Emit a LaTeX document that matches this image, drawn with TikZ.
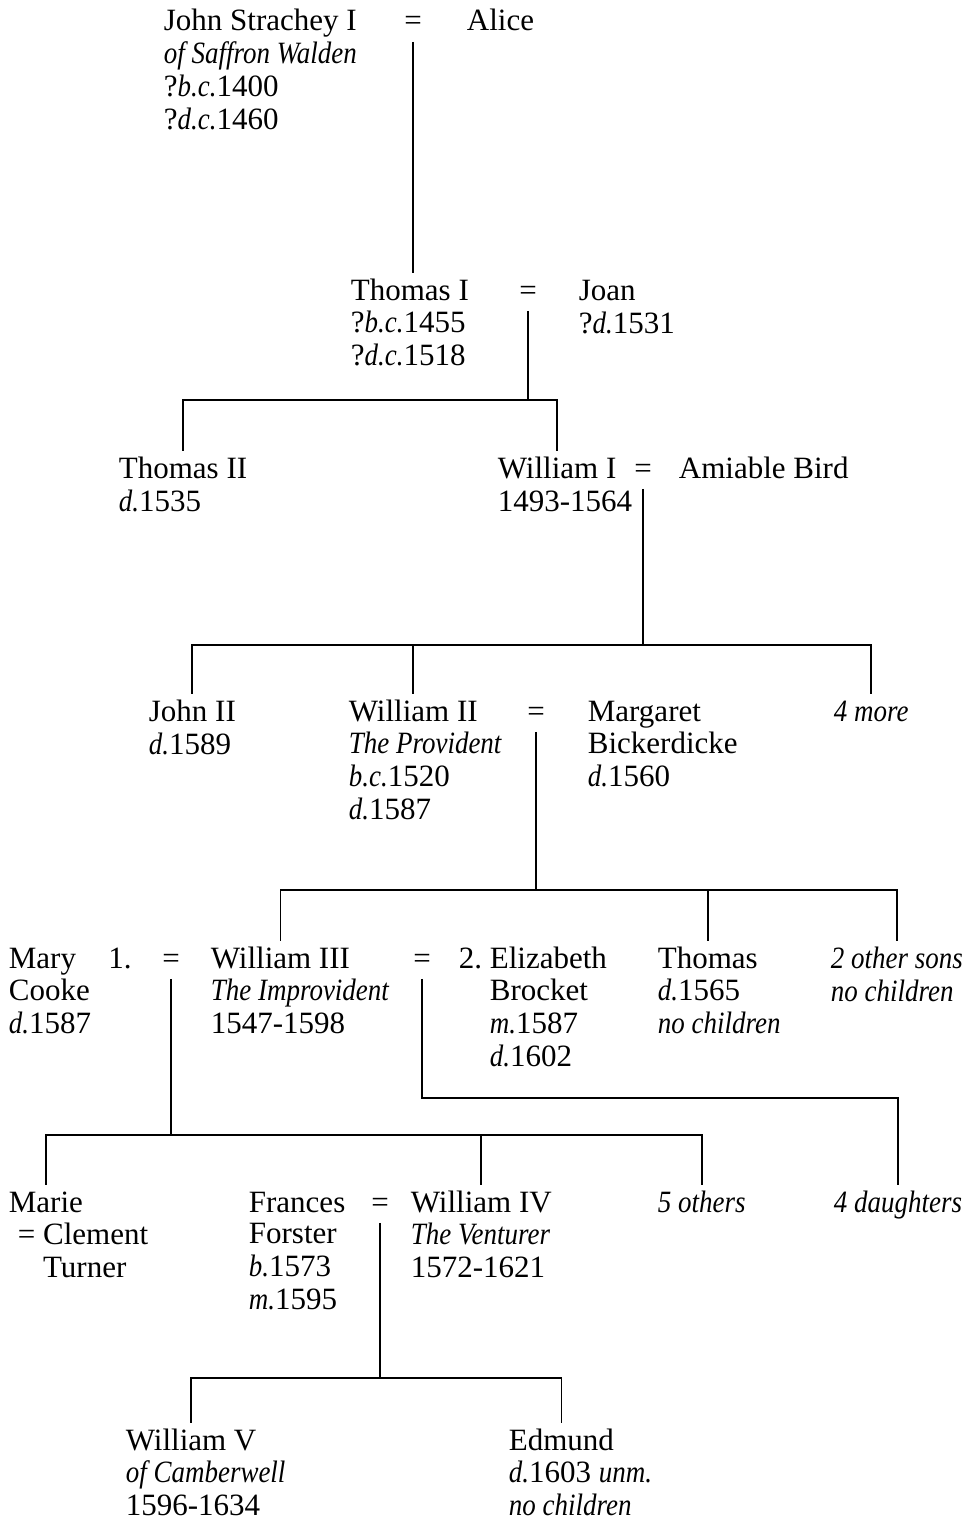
\documentclass[tikz,border=0pt]{standalone}
\usepackage{fontspec}
\setmainfont{Liberation Serif}[ItalicFeatures={FakeStretch=0.87}]
\usetikzlibrary{calc}

\tikzset{
  nm/.style={anchor=base west, inner sep=0pt, outer ysep=2pt, execute at begin node=\strut},
  info/.style={anchor=north west, inner sep=0pt, align=left, yshift=-4.95pt, execute at begin node=\strut},
  eq/.style={anchor=base, inner sep=0pt, execute at begin node=\strut},
}

\begin{document}
\begin{tikzpicture}[x=0.5pt, y=-0.5pt, line width=0.9pt, font=\fontsize{15.5}{16.5}\selectfont]
  \useasboundingbox (0,0) rectangle (969,1525);
  % John Strachey I and Alice
  \node[nm] (johnI) at (163,31) {John Strachey I};
  \node[info] at (johnI.base west) {\textit{of Saffron Walden}\\?\textit{b.c.}1400\\?\textit{d.c.}1460};
  \node[eq] (eqA) at (413,31) {=};
  \node[nm] (alice) at (466,31) {Alice};
  % Thomas I and Joan
  \node[nm] (thomasI) at (350,300) {Thomas I};
  \node[info] at (thomasI.base west) {?\textit{b.c.}1455\\?\textit{d.c.}1518};
  \node[eq] (eqB) at (528,300) {=};
  \node[nm] (joan) at (578,300) {Joan};
  \node[info] at (joan.base west) {?\textit{d.}1531};
  % their sons
  \node[nm] (thomasII) at (118,478) {Thomas II};
  \node[info] at (thomasII.base west) {\textit{d.}1535};
  \node[nm] (williamI) at (497,478) {William I};
  \node[info] at (williamI.base west) {1493-1564};
  \node[eq] (eqC) at (643,478) {=};
  \node[nm] (amiable) at (678,478) {Amiable Bird};
  % William I's children
  \node[nm] (johnII) at (148,721) {John II};
  \node[info] at (johnII.base west) {\textit{d.}1589};
  \node[nm] (williamII) at (348,721) {William II};
  \node[info] at (williamII.base west) {\textit{The Provident}\\\textit{b.c.}1520\\\textit{d.}1587};
  \node[eq] (eqD) at (536,721) {=};
  \node[nm] (margaret) at (587,721) {Margaret};
  \node[info] at (margaret.base west) {Bickerdicke\\\textit{d.}1560};
  \node[nm] (more) at (833,721) {\textit{4 more}};
  % William II's children
  \node[nm] (mary) at (8,968) {Mary};
  \node[info] at (mary.base west) {Cooke\\\textit{d.}1587};
  \node[eq] (first) at (120,968) {1.};
  \node[eq] (eqE) at (171,968) {=};
  \node[nm] (williamIII) at (210,968) {William III};
  \node[info] at (williamIII.base west) {\textit{The Improvident}\\1547-1598};
  \node[eq] (eqF) at (422,968) {=};
  \node[nm] (elizabeth) at (489,968) {\llap{2.\ }Elizabeth};
  \node[info] at (elizabeth.base west) {Brocket\\\textit{m.}1587\\\textit{d.}1602};
  \node[nm] (thomas) at (657,968) {Thomas};
  \node[info] at (thomas.base west) {\textit{d.}1565\\\textit{no children}};
  \node[nm] (sons) at (830,968) {\textit{2 other sons}};
  \node[info] at (sons.base west) {\textit{no children}};
  % William III's children
  \node[nm] (marie) at (8,1212) {Marie};
  \node[info] at (marie.base west) {\hspace{4.5pt}= Clement\\\hphantom{\hspace{4.5pt}= }Turner};
  \node[nm] (frances) at (248,1212) {Frances};
  \node[info] at (frances.base west) {Forster\\\textit{b.}1573\\\textit{m.}1595};
  \node[eq] (eqG) at (380,1212) {=};
  \node[nm] (williamIV) at (410,1212) {William IV};
  \node[info] at (williamIV.base west) {\textit{The Venturer}\\1572-1621};
  \node[nm] (others) at (657,1212) {\textit{5 others}};
  \node[nm] (daughters) at (833,1212) {\textit{4 daughters}};
  % William IV's children
  \node[nm] (williamV) at (125,1450) {William V};
  \node[info] at (williamV.base west) {\textit{of Camberwell}\\1596-1634};
  \node[nm] (edmund) at (508,1450) {Edmund};
  \node[info] at (edmund.base west) {\textit{d.}1603 \textit{unm.}\\\textit{no children}};

  % descent lines
  \draw (eqA.south) -- (eqA.south |- thomasI.north);
  \coordinate (jB) at (eqB.south |- 0,400);
  \draw (eqB.south) -- (jB);
  \draw (thomasII.north) |- (jB) -| (williamI.north);
  \coordinate (jC) at (eqC.south |- 0,645);
  \draw (eqC.south) -- (jC);
  \draw (johnII.north) |- (jC) -| (more.north);
  \draw (williamII.north) -- (williamII.north |- jC);
  \coordinate (jD) at (eqD.south |- 0,890);
  \draw (eqD.south) -- (jD);
  \draw (williamIII.north) |- (jD) -| (sons.north);
  \draw (thomas.north) -- (thomas.north |- jD);
  \coordinate (jE) at (eqE.south |- 0,1135);
  \draw (eqE.south) -- (jE);
  \draw (marie.north) |- (jE) -| (others.north);
  \draw (williamIV.north) -- (williamIV.north |- jE);
  \coordinate (jF) at (eqF.south |- 0,1098);
  \draw (eqF.south) -- (jF) -| (daughters.north);
  \coordinate (jG) at (eqG.south |- 0,1378);
  \draw (eqG.south) -- (jG);
  \draw (williamV.north) |- (jG) -| (edmund.north);
\end{tikzpicture}
\end{document}
